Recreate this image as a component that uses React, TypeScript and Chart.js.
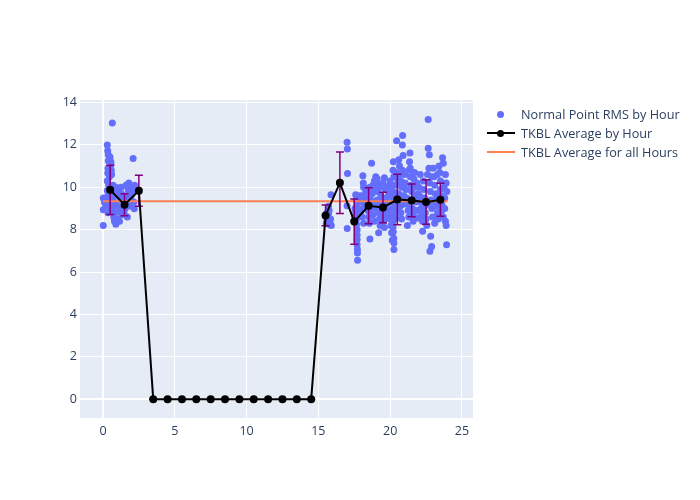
import React, { useEffect, useRef } from "react";
import { Chart, registerables } from "chart.js";

Chart.register(...registerables);

// Normal point RMS scatter: [hour, rms]
const scatterPoints: number[][] = [
  [0.02, 8.2], [0.02, 8.94], [0.02, 9.5],
  [0.3, 12.0], [0.33, 11.73], [0.37, 11.53], [0.49, 11.43], [0.37, 11.25], [0.56, 11.06], [0.49, 10.87], [0.33, 10.68],
  [0.35, 10.9], [0.45, 10.5], [0.3, 10.3], [0.4, 10.1], [0.5, 9.9], [0.3, 9.85], [0.35, 9.6], [0.45, 9.4], [0.4, 9.2],
  [0.5, 9.0], [0.35, 8.8], [0.6, 9.7], [0.65, 9.3], [0.7, 10.1], [0.75, 9.8], [0.7, 9.5], [0.8, 9.2], [0.65, 8.9],
  [0.75, 8.6], [0.8, 8.4], [0.9, 8.25], [0.95, 8.5], [0.85, 8.8], [1.0, 9.1], [1.0, 9.6], [1.1, 9.9], [0.9, 10.0],
  [1.2, 9.4], [1.2, 8.9], [1.15, 8.4], [1.3, 8.7], [1.3, 9.7], [1.25, 10.0], [0.55, 11.2], [0.6, 10.6], [0.58, 10.8],
  [0.2, 9.15], [0.25, 9.45], [0.1, 9.3], [0.65, 13.03],
  [1.5, 8.7], [1.55, 9.0], [1.6, 9.3], [1.65, 9.6], [1.7, 8.6], [1.75, 9.9], [1.8, 10.2], [1.85, 9.4], [1.9, 9.1],
  [1.95, 9.57], [2.0, 10.0], [2.05, 9.8], [2.1, 11.36], [2.18, 8.99], [2.15, 9.3], [2.2, 10.1], [1.6, 10.1], [1.4, 9.5],
  [1.45, 8.9],
  [15.55, 8.3], [15.6, 8.45], [15.65, 8.6], [15.7, 8.75], [15.75, 8.9], [15.7, 9.1], [15.8, 8.35], [15.85, 8.5],
  [15.88, 9.65], [15.9, 8.2], [15.6, 8.8], [15.75, 8.25],
  [17.0, 12.13], [17.02, 11.81], [17.03, 10.65], [17.0, 9.13], [17.01, 8.05],
  [17.6, 9.65], [17.62, 9.4], [17.65, 9.1], [17.6, 8.8], [17.66, 8.5], [17.66, 8.24], [17.7, 8.0], [17.7, 7.75],
  [17.7, 7.53], [17.7, 7.29], [17.72, 7.06], [17.72, 6.9], [17.73, 6.56], [17.55, 9.0], [17.55, 8.6], [17.8, 9.5],
  [17.8, 8.9], [17.85, 9.3], [17.9, 9.6], [17.95, 8.7], [18.1, 10.54], [18.13, 10.2], [18.15, 10.0], [18.1, 9.6],
  [18.05, 9.3], [18.1, 9.0], [18.05, 8.6], [18.15, 8.3],
  [18.3, 9.8], [18.35, 9.5], [18.4, 9.2], [18.45, 8.9], [18.5, 8.6], [18.55, 8.3], [18.59, 7.56], [18.6, 9.9],
  [18.65, 9.4], [18.71, 11.14], [18.8, 10.1], [18.75, 9.7], [18.7, 9.0], [18.8, 8.7], [18.9, 8.4], [18.85, 9.3],
  [18.95, 9.9], [18.9, 10.3], [18.6, 10.0], [18.4, 9.95],
  [19.0, 10.5], [19.05, 10.2], [19.1, 9.8], [19.1, 9.4], [19.15, 9.1], [19.2, 8.8], [19.25, 8.5], [19.2, 7.85],
  [19.3, 10.0], [19.35, 9.6], [19.4, 9.3], [19.45, 9.0], [19.5, 8.7], [19.55, 8.4], [19.5, 10.2], [19.6, 10.45],
  [19.65, 9.9], [19.7, 9.5], [19.75, 9.2], [19.8, 8.9], [19.85, 8.6], [19.9, 9.7], [19.95, 10.1], [19.6, 8.1],
  [19.3, 8.2], [19.0, 9.0], [19.8, 10.0], [19.1, 10.4],
  [20.0, 10.3], [20.05, 9.9], [20.1, 9.6], [20.1, 9.3], [20.15, 9.0], [20.15, 8.7], [20.2, 8.4], [20.2, 8.1],
  [20.22, 7.9], [20.25, 7.6], [20.26, 7.37], [20.26, 7.06], [20.22, 11.21], [20.2, 10.8], [20.25, 10.5], [20.3, 10.1],
  [20.3, 9.75], [20.35, 9.45], [20.35, 9.15], [20.4, 8.85], [20.4, 8.55], [20.45, 12.2], [20.45, 10.7], [20.5, 10.4],
  [20.0, 8.5], [20.05, 8.2], [20.1, 7.85], [20.15, 7.5],
  [20.6, 11.3], [20.65, 11.0], [20.7, 10.6], [20.75, 10.3], [20.8, 10.0], [20.85, 12.0], [20.87, 12.44], [20.9, 11.5],
  [20.6, 9.7], [20.65, 9.4], [20.7, 9.1], [20.75, 8.8], [20.8, 8.5], [20.9, 9.2], [20.95, 9.6], [20.55, 8.9],
  [20.85, 10.8], [20.6, 10.2],
  [21.0, 10.6], [21.05, 10.2], [21.1, 9.9], [21.15, 9.5], [21.2, 9.2], [21.25, 8.9], [21.3, 8.6], [21.38, 11.62],
  [21.35, 11.2], [21.4, 10.9], [21.4, 10.5], [21.45, 10.1], [21.5, 9.8], [21.5, 9.4], [21.55, 9.0], [21.6, 8.7],
  [21.6, 8.4], [21.65, 10.4], [21.7, 10.0], [21.75, 9.6], [21.8, 9.3], [21.85, 8.9], [21.9, 8.55], [21.95, 9.7],
  [21.2, 8.2], [21.7, 10.7], [21.3, 10.8], [21.85, 10.2],
  [22.0, 10.0], [22.05, 9.6], [22.1, 9.3], [22.15, 9.0], [22.2, 8.7], [22.26, 7.92], [22.25, 8.4], [22.3, 10.3],
  [22.35, 9.9], [22.4, 9.5], [22.4, 9.1], [22.45, 8.8], [22.5, 8.5], [22.55, 8.2], [22.65, 13.2], [22.65, 11.84],
  [22.73, 11.53], [22.7, 10.9], [22.6, 10.6], [22.75, 10.2], [22.8, 9.8], [22.82, 7.69], [22.89, 7.21], [22.77, 6.98],
  [22.85, 9.4], [22.9, 9.0], [22.95, 8.6], [22.1, 10.6], [22.9, 10.5], [22.6, 9.2],
  [23.0, 10.9], [23.05, 10.5], [23.1, 10.1], [23.15, 9.7], [23.2, 9.4], [23.25, 9.1], [23.3, 8.8], [23.35, 8.5],
  [23.4, 11.0], [23.45, 10.7], [23.5, 10.3], [23.5, 9.9], [23.55, 9.6], [23.6, 9.2], [23.6, 8.9], [23.65, 11.4],
  [23.7, 11.14], [23.7, 8.6], [23.75, 10.0], [23.8, 9.5], [23.8, 9.0], [23.85, 8.4], [23.9, 8.2], [23.93, 7.29],
  [23.9, 10.2], [23.95, 9.8], [23.1, 8.3], [23.3, 10.6], [23.85, 10.6], [23.0, 9.3],
];

const avgHours = [0.5, 1.5, 2.5, 3.5, 4.5, 5.5, 6.5, 7.5, 8.5, 9.5, 10.5, 11.5, 12.5, 13.5, 14.5, 15.5, 16.5, 17.5, 18.5, 19.5, 20.5, 21.5, 22.5, 23.5];
const avgValues = [9.88, 9.18, 9.84, 0, 0, 0, 0, 0, 0, 0, 0, 0, 0, 0, 0, 8.67, 10.21, 8.38, 9.13, 9.05, 9.42, 9.38, 9.3, 9.41];
const avgErrors = [1.16, 0.52, 0.73, 0, 0, 0, 0, 0, 0, 0, 0, 0, 0, 0, 0, 0.49, 1.45, 1.07, 0.85, 0.72, 1.19, 0.77, 1.05, 0.78];

const overallHours = [0, 24];
const overallAverage = 9.34;

const xTicks = [0, 5, 10, 15, 20, 25];
const yTicks = [0, 2, 4, 6, 8, 10, 12, 14];

const legendLabels = ["Normal Point RMS by Hour", "TKBL Average by Hour", "TKBL Average for all Hours"];

const FONT = "'Open Sans', 'DejaVu Sans', sans-serif";
const TEXT = "#2a3f5f";

export default function App() {
  const ref = useRef<HTMLCanvasElement>(null);

  useEffect(() => {
    if (!ref.current) return;
    const bgPlugin = {
      id: "bg",
      beforeDraw(chart: any) {
        const { ctx, chartArea } = chart;
        ctx.save();
        ctx.fillStyle = "#E5ECF6";
        ctx.fillRect(chartArea.left, chartArea.top, chartArea.right - chartArea.left, chartArea.bottom - chartArea.top);
        ctx.restore();
      },
    };
    const errPlugin = {
      id: "errbars",
      beforeDatasetDraw(chart: any, args: any) {
        if (args.index !== 1) return;
        const { ctx } = chart;
        const xs = chart.scales.x;
        const ys = chart.scales.y;
        ctx.save();
        ctx.strokeStyle = "#800080";
        ctx.lineWidth = 1.5;
        avgHours.forEach((h, i) => {
          const px = xs.getPixelForValue(h);
          const t = ys.getPixelForValue(avgValues[i] + avgErrors[i]);
          const b = ys.getPixelForValue(avgValues[i] - avgErrors[i]);
          ctx.beginPath();
          ctx.moveTo(px, t);
          ctx.lineTo(px, b);
          ctx.moveTo(px - 4, t);
          ctx.lineTo(px + 4, t);
          ctx.moveTo(px - 4, b);
          ctx.lineTo(px + 4, b);
          ctx.stroke();
        });
        ctx.restore();
      },
    };

    const chart = new Chart(ref.current, {
      type: "scatter",
      data: {
        datasets: [
          {
            label: legendLabels[0],
            data: scatterPoints.map((p) => ({ x: p[0], y: p[1] })),
            backgroundColor: "#636efa",
            borderWidth: 0,
            pointBorderWidth: 0,
            pointRadius: 3.5,
            showLine: false,
            order: 3,
          },
          {
            label: legendLabels[1],
            data: avgHours.map((h, i) => ({ x: h, y: avgValues[i] })),
            borderColor: "#000000",
            backgroundColor: "#000000",
            borderWidth: 2,
            pointBorderWidth: 0,
            pointRadius: 4,
            showLine: true,
            order: 1,
          },
          {
            label: legendLabels[2],
            data: overallHours.map((h) => ({ x: h, y: overallAverage })),
            borderColor: "#FF7F50",
            borderWidth: 2,
            pointRadius: 0,
            showLine: true,
            order: 2,
          },
        ],
      },
      options: {
        animation: false,
        responsive: false,
        devicePixelRatio: 1,
        layout: { padding: { top: 100, right: 227, left: 0, bottom: 0 } },
        plugins: { legend: { display: false }, tooltip: { enabled: false } },
        scales: {
          x: {
            type: "linear",
            min: -1.6,
            max: 25.77,
            afterFit: (s: any) => { s.height = 82; },
            afterBuildTicks: (s: any) => { s.ticks = xTicks.map((v) => ({ value: v })); },
            grid: {
              color: "#ffffff",
              lineWidth: (c: any) => (c.tick && c.tick.value === 0 ? 2 : 1),
              drawTicks: false,
            },
            border: { display: false },
            ticks: { color: TEXT, font: { family: FONT, size: 12.5 }, padding: 6, maxRotation: 0 },
          },
          y: {
            type: "linear",
            min: -0.89,
            max: 14.12,
            afterFit: (s: any) => { s.width = 80; },
            afterBuildTicks: (s: any) => { s.ticks = yTicks.map((v) => ({ value: v })); },
            grid: {
              color: "#ffffff",
              lineWidth: (c: any) => (c.tick && c.tick.value === 0 ? 2 : 1),
              drawTicks: false,
            },
            border: { display: false },
            ticks: { color: TEXT, font: { family: FONT, size: 12.5 }, padding: 3 },
          },
        },
      },
      plugins: [bgPlugin, errPlugin],
    } as any);
    return () => chart.destroy();
  }, []);

  const textStyle: React.CSSProperties = {
    position: "absolute",
    left: 521,
    fontFamily: FONT,
    fontSize: 12.7,
    color: TEXT,
    whiteSpace: "nowrap",
    lineHeight: "16px",
  };

  return (
    <div style={{ position: "absolute", left: 0, top: 0, width: 700, height: 500, background: "#fff" }}>
      <canvas ref={ref} width={700} height={500} style={{ width: 700, height: 500 }} />
      <div style={{ position: "absolute", left: 497, top: 111, width: 7, height: 7, borderRadius: "50%", background: "#636efa" }} />
      <div style={{ ...textStyle, top: 106 }}>{legendLabels[0]}</div>
      <div style={{ position: "absolute", left: 487, top: 132, width: 28, height: 2, background: "#000" }} />
      <div style={{ position: "absolute", left: 497, top: 130, width: 7, height: 7, borderRadius: "50%", background: "#000" }} />
      <div style={{ ...textStyle, top: 125 }}>{legendLabels[1]}</div>
      <div style={{ position: "absolute", left: 487, top: 151, width: 28, height: 2, background: "#FF7F50" }} />
      <div style={{ ...textStyle, top: 144 }}>{legendLabels[2]}</div>
    </div>
  );
}
